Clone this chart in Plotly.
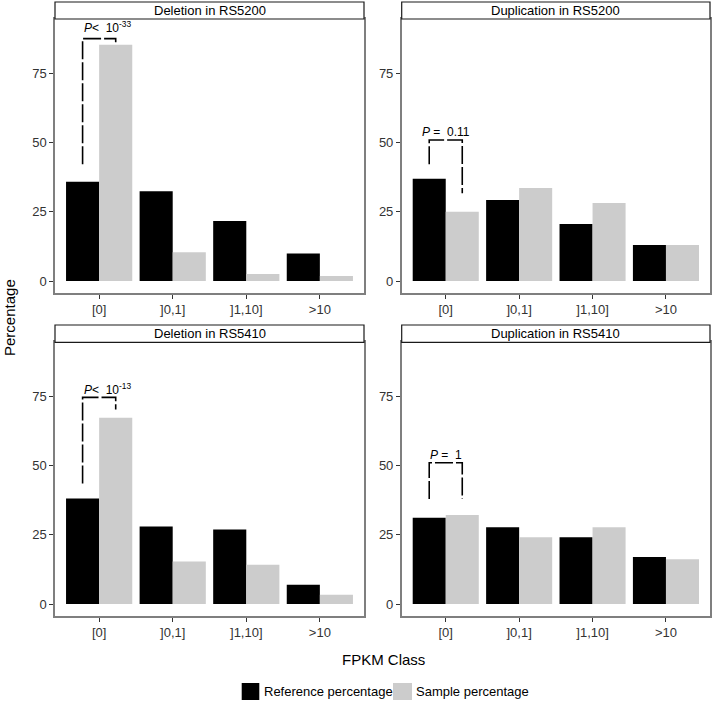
import plotly.graph_objects as go

# ---------------- data ----------------
categories = ["[0]", "]0,1]", "]1,10]", ">10"]
series_names = ["Reference percentage", "Sample percentage"]
panel_titles = ["Deletion in RS5200", "Duplication in RS5200",
                "Deletion in RS5410", "Duplication in RS5410"]

ref_del_5200 = [35.9, 32.4, 21.7, 10.0]
smp_del_5200 = [85.3, 10.4, 2.6, 1.8]
ref_dup_5200 = [36.9, 29.3, 20.6, 13.0]
smp_dup_5200 = [25.0, 33.6, 28.2, 13.0]
ref_del_5410 = [38.2, 28.0, 27.0, 7.0]
smp_del_5410 = [67.3, 15.4, 14.2, 3.4]
ref_dup_5410 = [31.2, 27.8, 24.2, 17.0]
smp_dup_5410 = [32.2, 24.2, 27.8, 16.2]

p_labels = ["<i>P</i><  10<sup>-33</sup>", "<i>P</i> =  0.11",
            "<i>P</i><  10<sup>-13</sup>", "<i>P</i> =  1"]
bracket_left = [42.2, 42.2, 43.6, 38.0]
bracket_top = [87.5, 50.9, 74.7, 51.1]
bracket_right = [86.2, 31.7, 70.3, 38.0]
label_y = [91.7, 53.7, 77.6, 53.9]

y_ticks = [0, 25, 50, 75]

# ---------------- layout helpers ----------------
W, H = 714, 703
FONT = "Liberation Sans, Arial, Helvetica, sans-serif"
colors = ["#000000", "#CCCCCC"]

def px_x(p):
    return p / W

def px_y(p):
    return 1 - p / H

col_px = [(55, 364), (401.7, 710)]
row_px = [(19, 293), (342.3, 616)]
strip_px = [(2, 19), (325, 342.3)]

panels = [
    (ref_del_5200, smp_del_5200),
    (ref_dup_5200, smp_dup_5200),
    (ref_del_5410, smp_del_5410),
    (ref_dup_5410, smp_dup_5410),
]
label_x = [0.12, 0.0, 0.12, 0.0]
dodge = 0.225

fig = go.Figure()
shapes = []
annotations = []
layout_axes = {}

for i, (ref, smp) in enumerate(panels):
    r, c = divmod(i, 2)
    n = i + 1
    xa = "x" if n == 1 else f"x{n}"
    ya = "y" if n == 1 else f"y{n}"
    xkey = "xaxis" if n == 1 else f"xaxis{n}"
    ykey = "yaxis" if n == 1 else f"yaxis{n}"
    xs = list(range(len(categories)))
    for s, vals in enumerate([ref, smp]):
        fig.add_trace(go.Bar(
            x=xs, y=vals, name=series_names[s], marker_color=colors[s],
            marker_line_width=0, offsetgroup=str(s), xaxis=xa, yaxis=ya,
            showlegend=False, hoverinfo="skip"))
    # significance bracket
    fig.add_trace(go.Scatter(
        x=[-dodge, -dodge, dodge, dodge],
        y=[bracket_left[i], bracket_top[i], bracket_top[i], bracket_right[i]],
        mode="lines", line=dict(color="black", width=1.6, dash="18px,3px"),
        xaxis=xa, yaxis=ya, showlegend=False, hoverinfo="skip"))
    annotations.append(dict(
        x=label_x[i], y=label_y[i], xref=xa, yref=ya, text=p_labels[i],
        showarrow=False, xanchor="center", yanchor="middle",
        font=dict(family=FONT, size=12, color="black")))

    x0, x1 = col_px[c]
    y0, y1 = row_px[r]
    layout_axes[xkey] = dict(
        domain=[px_x(x0), px_x(x1)], anchor=ya, range=[-0.6, 3.6],
        tickvals=xs, ticktext=categories, ticks="outside", ticklen=4,
        tickcolor="#333333", tickwidth=1, showgrid=False, zeroline=False,
        showline=True, mirror=True, linecolor="#7F7F7F", linewidth=1.5,
        tickfont=dict(family=FONT, size=13, color="#333333"))
    layout_axes[ykey] = dict(
        domain=[px_y(y1), px_y(y0)], anchor=xa, range=[-4.3, 94.6],
        tickvals=y_ticks, ticks="outside", ticklen=4, tickcolor="#333333",
        tickwidth=1, showgrid=False, zeroline=False, showline=True,
        mirror=True, linecolor="#7F7F7F", linewidth=1.5,
        tickfont=dict(family=FONT, size=13, color="#333333"))

    # strip
    s0, s1 = strip_px[r]
    shapes.append(dict(type="rect", xref="paper", yref="paper",
                       x0=px_x(x0), x1=px_x(x1), y0=px_y(s1), y1=px_y(s0),
                       fillcolor="white", line=dict(color="#1a1a1a", width=1.2)))
    annotations.append(dict(
        x=px_x((x0 + x1) / 2), y=px_y((s0 + s1) / 2), xref="paper", yref="paper",
        text=panel_titles[i], showarrow=False, xanchor="center", yanchor="middle",
        font=dict(family=FONT, size=13, color="black")))

# axis titles
annotations.append(dict(x=px_x(9), y=px_y(318), xref="paper", yref="paper",
                        text="Percentage", textangle=-90, showarrow=False,
                        xanchor="center", yanchor="middle",
                        font=dict(family=FONT, size=15, color="black")))
annotations.append(dict(x=px_x(383), y=px_y(659), xref="paper", yref="paper",
                        text="FPKM Class", showarrow=False,
                        xanchor="center", yanchor="middle",
                        font=dict(family=FONT, size=15, color="black")))

# manual legend
legend_items = [(241.7, 259.3, 262), (393, 412, 414)]
for s, (lx0, lx1, tx) in enumerate(legend_items):
    shapes.append(dict(type="rect", xref="paper", yref="paper",
                       x0=px_x(lx0), x1=px_x(lx1), y0=px_y(700), y1=px_y(683),
                       fillcolor=colors[s], line=dict(width=0)))
    annotations.append(dict(x=px_x(tx), y=px_y(691.7), xref="paper", yref="paper",
                            text=series_names[s], showarrow=False,
                            xanchor="left", yanchor="middle",
                            font=dict(family=FONT, size=13, color="black")))

fig.update_layout(
    width=W, height=H, margin=dict(l=0, r=0, t=0, b=0),
    paper_bgcolor="white", plot_bgcolor="white",
    barmode="group", bargap=0.1, bargroupgap=0,
    shapes=shapes, annotations=annotations, showlegend=False,
    **layout_axes)

fig.write_html("out.html", config={"displayModeBar": False},
               post_script="document.body.style.margin='0';document.body.style.overflow='hidden';")
